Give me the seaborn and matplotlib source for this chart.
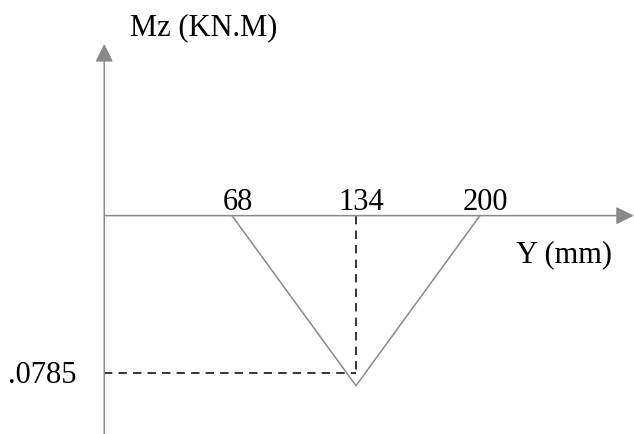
import matplotlib
matplotlib.use("Agg")
import matplotlib.pyplot as plt
import seaborn as sb
import pandas as pd

# moment diagram data
y_mm = [68, 134, 200]
mz = [0, -0.0785, 0]
tick_labels = ["68", "134", "200"]
peak_label = ".0785"

sb.set_style("white")
plt.rcParams['font.family'] = ['Liberation Serif', 'DejaVu Serif']

gray = '#8a8a8a'
fig = plt.figure(figsize=(6.34, 4.35), dpi=100)
ax = fig.add_axes([0, 0, 1, 1])
ax.set_xlim(-55.5, 282)
ax.set_ylim(-0.1008, 0.1)
ax.axis('off')

# axes with arrows
arrow = dict(arrowstyle='-|>,head_length=0.55,head_width=0.27', mutation_scale=20,
             color=gray, lw=1.1, shrinkA=0, shrinkB=0)
ax.annotate('', xy=(282, 0), xytext=(0, 0), arrowprops=arrow)
ax.annotate('', xy=(0, 0.0793), xytext=(0, -0.102), arrowprops=arrow)

# triangle
df = pd.DataFrame({'y': y_mm, 'mz': mz})
sb.lineplot(data=df, x='y', y='mz', sort=False, estimator=None, color=gray, lw=1.1, ax=ax)

# dashed guides to the peak (drawn slightly above the tip, as in the sketch)
peak_x = y_mm[1]
guide_y = mz[1] + 0.006
ax.plot([peak_x, peak_x], [0, guide_y], color='black', lw=1.1, dashes=(5.5, 4))
ax.plot([0, peak_x], [guide_y, guide_y], color='black', lw=1.1, dashes=(5.5, 4))

fs = 22
for x, lab in zip(y_mm, tick_labels):
    ax.text(x + 3, 0.0031, lab, ha='center', va='baseline', fontsize=fs, color='black')
ax.text(-15, -0.0768, peak_label, ha='right', va='baseline', fontsize=fs, color='black')
ax.text(13.7, 0.0839, "Mz (KN.M)", ha='left', va='baseline', fontsize=fs, color='black')
ax.text(219.2, -0.0209, "Y (mm)", ha='left', va='baseline', fontsize=fs, color='black')

fig.savefig("out.png", dpi=100)
